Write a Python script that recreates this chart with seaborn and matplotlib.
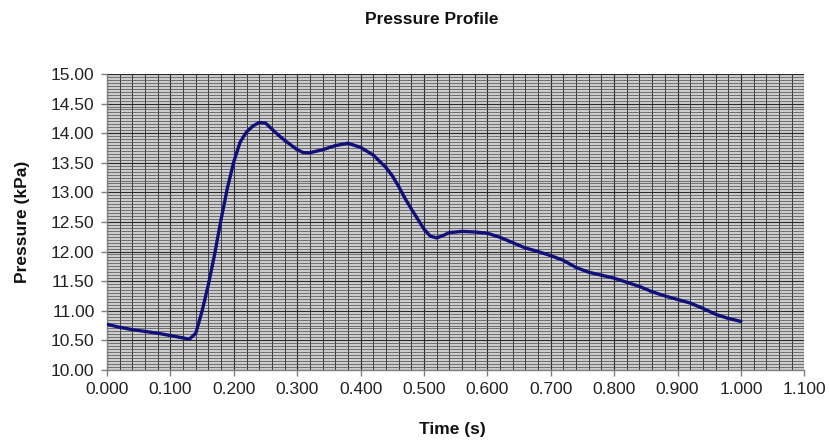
import numpy as np
import pandas as pd
import matplotlib
matplotlib.use("Agg")
import matplotlib.pyplot as plt
from matplotlib.ticker import MultipleLocator, FormatStrFormatter
import seaborn as sns

# Pressure trace over one cycle
time_s = [0.00, 0.02, 0.04, 0.06, 0.08, 0.10, 0.12, 0.13, 0.14, 0.15,
          0.16, 0.17, 0.18, 0.19, 0.20, 0.21, 0.22, 0.23, 0.24, 0.25,
          0.26, 0.27, 0.28, 0.29, 0.30, 0.31, 0.32, 0.34, 0.36, 0.38,
          0.40, 0.42, 0.44, 0.45, 0.46, 0.47, 0.48, 0.49, 0.50, 0.51,
          0.52, 0.53, 0.54, 0.56, 0.58, 0.60, 0.62, 0.64, 0.66, 0.68,
          0.70, 0.72, 0.74, 0.76, 0.78, 0.80, 0.82, 0.84, 0.86, 0.88,
          0.90, 0.92, 0.94, 0.96, 0.98, 1.00]
pressure_kpa = [10.77, 10.72, 10.68, 10.65, 10.62, 10.58, 10.54, 10.52, 10.62, 11.00,
                11.45, 11.97, 12.55, 13.08, 13.52, 13.85, 14.02, 14.12, 14.18, 14.17,
                14.07, 13.97, 13.88, 13.80, 13.72, 13.67, 13.67, 13.72, 13.79, 13.83,
                13.76, 13.63, 13.42, 13.28, 13.10, 12.90, 12.72, 12.55, 12.38, 12.26,
                12.23, 12.27, 12.32, 12.34, 12.33, 12.31, 12.24, 12.15, 12.06, 12.00,
                11.93, 11.85, 11.73, 11.65, 11.60, 11.55, 11.48, 11.41, 11.32, 11.25,
                11.19, 11.13, 11.04, 10.94, 10.87, 10.82]

df = pd.DataFrame({"Time (s)": time_s, "Pressure (kPa)": pressure_kpa})

sns.set_theme(style="white")
plt.rcParams["font.family"] = ["Liberation Sans", "DejaVu Sans"]

fig = plt.figure(figsize=(8.30, 4.43), dpi=100)
ax = fig.add_axes([0.129, 0.165, 0.840, 0.668])
ax.set_facecolor("#cdcdcd")

sns.lineplot(data=df, x="Time (s)", y="Pressure (kPa)", ax=ax,
             color="#10107a", linewidth=2.4, zorder=5)

ax.set_xlim(0.0, 1.1)
ax.set_ylim(10.0, 15.0)
ax.xaxis.set_major_locator(MultipleLocator(0.1))
ax.xaxis.set_minor_locator(MultipleLocator(0.02))
ax.yaxis.set_major_locator(MultipleLocator(0.5))
ax.yaxis.set_minor_locator(MultipleLocator(0.05))
ax.xaxis.set_major_formatter(FormatStrFormatter("%.3f"))
ax.yaxis.set_major_formatter(FormatStrFormatter("%.2f"))

ax.grid(True, which="major", color="#2a2a2a", linewidth=0.8, zorder=1)
ax.grid(True, which="minor", axis="x", color="#3a3a3a", linewidth=0.7, zorder=1)
ax.grid(True, which="minor", axis="y", color="#555555", linewidth=0.55, zorder=1)
ax.set_axisbelow(True)

for side in ["top", "right"]:
    ax.spines[side].set_visible(False)
for side in ["left", "bottom"]:
    ax.spines[side].set_color("#808080")
    ax.spines[side].set_linewidth(1.0)

ax.tick_params(axis="both", which="major", direction="out", length=4,
               width=1.0, color="#808080", labelsize=12.5, labelcolor="#222222",
               bottom=True, left=True, pad=5)
ax.tick_params(axis="both", which="minor", length=0)

ax.set_xlabel("")
ax.set_ylabel("")
fig.text(0.52, 0.955, "Pressure Profile", ha="center", va="center",
         fontsize=12.5, fontweight="bold", color="#111111")
fig.text(0.545, 0.03, "Time (s)", ha="center", va="center",
         fontsize=12.5, fontweight="bold", color="#111111")
fig.text(0.027, 0.50, "Pressure (kPa)", ha="center", va="center",
         rotation=90, fontsize=12.5, fontweight="bold", color="#111111")

fig.savefig("out.png", dpi=100, facecolor="white")
